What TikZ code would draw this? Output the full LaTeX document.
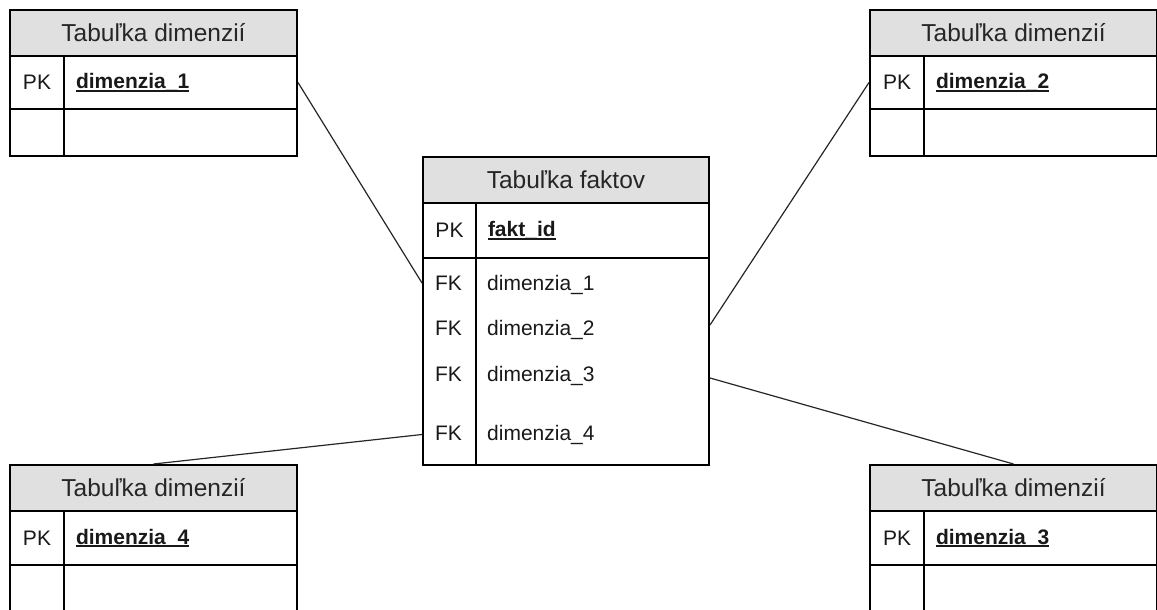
\documentclass[tikz,border=0pt]{standalone}
\usepackage{fontspec}
\setmainfont{Liberation Sans}
\newcommand\ulbf[1]{\setbox0\hbox{\textbf{#1}}\rlap{\rule[-3pt]{\wd0}{1.7pt}}\box0}
\tikzset{
  hdr/.style={draw, line width=2pt, fill=hdrgray, anchor=north west, minimum width=287pt, minimum height=46pt, inner sep=0pt, font=\fontsize{24.5}{28}\selectfont, text=black!85},
  keycell/.style={draw, line width=2pt, anchor=north west, minimum width=54pt, inner sep=0pt, font=\fontsize{21}{25}\selectfont, text=black!90},
  valcell/.style={draw, line width=2pt, anchor=north west, text width=209pt, inner xsep=12pt, inner ysep=0pt, align=left, font=\fontsize{21}{25}\selectfont, text=black!90},
  plain/.style={inner sep=0pt, text height=15pt, text depth=0pt, font=\fontsize{21}{25}\selectfont, text=black!90},
  link/.style={line width=1.2pt, draw=black!85}
}
\definecolor{hdrgray}{RGB}{224,224,224}
\begin{document}
\begin{tikzpicture}[x=1pt, y=-1pt]
\useasboundingbox (0,0) rectangle (1157,610);
\clip (0,0) rectangle (1157,610);
% ---------- top-left dimension table ----------
\node[hdr] (d1h) at (9,9) {Tabuľka dimenzií};
\node[keycell, minimum height=53pt] (d1k) at (9,55) {PK};
\node[valcell, minimum height=53pt] (d1v) at (63,55) {\ulbf{dimenzia\_1}};
\node[keycell, minimum height=47pt] (d1ek) at (9,108) {};
\node[valcell, minimum height=47pt] (d1ev) at (63,108) {};
% ---------- top-right dimension table ----------
\node[hdr] (d2h) at (869,9) {Tabuľka dimenzií};
\node[keycell, minimum height=53pt] (d2k) at (869,55) {PK};
\node[valcell, minimum height=53pt] (d2v) at (923,55) {\ulbf{dimenzia\_2}};
\node[keycell, minimum height=47pt] (d2ek) at (869,108) {};
\node[valcell, minimum height=47pt] (d2ev) at (923,108) {};
% ---------- bottom-left dimension table ----------
\node[hdr] (d4h) at (9,464) {Tabuľka dimenzií};
\node[keycell, minimum height=54pt] (d4k) at (9,510) {PK};
\node[valcell, minimum height=54pt] (d4v) at (63,510) {\ulbf{dimenzia\_4}};
\node[keycell, minimum height=52pt] (d4ek) at (9,564) {};
\node[valcell, minimum height=52pt] (d4ev) at (63,564) {};
% ---------- bottom-right dimension table ----------
\node[hdr] (d3h) at (869,464) {Tabuľka dimenzií};
\node[keycell, minimum height=54pt] (d3k) at (869,510) {PK};
\node[valcell, minimum height=54pt] (d3v) at (923,510) {\ulbf{dimenzia\_3}};
\node[keycell, minimum height=52pt] (d3ek) at (869,564) {};
\node[valcell, minimum height=52pt] (d3ev) at (923,564) {};
% ---------- fact table ----------
\node[hdr, minimum width=286pt] (fh) at (422,156) {Tabuľka faktov};
\node[keycell, minimum height=55pt, minimum width=53pt] (fk) at (422,202) {PK};
\node[valcell, minimum height=55pt] (fv) at (475,202) {\ulbf{fakt\_id}};
\node[keycell, minimum height=207pt, minimum width=53pt] (fkcol) at (422,257) {};
\node[draw, line width=2pt, anchor=north west, minimum width=233pt, minimum height=207pt, inner sep=0pt] (fvcol) at (475,257) {};
\node[plain] (k1) at (448.5,283) {FK};
\node[plain, anchor=west] (v1) at (487,283) {dimenzia\_1};
\node[plain] (k2) at (448.5,328) {FK};
\node[plain, anchor=west] (v2) at (487,328) {dimenzia\_2};
\node[plain] (k3) at (448.5,374) {FK};
\node[plain, anchor=west] (v3) at (487,374) {dimenzia\_3};
\node[plain] (k4) at (448.5,433) {FK};
\node[plain, anchor=west] (v4) at (487,433) {dimenzia\_4};
% ---------- connectors ----------
\draw[link] (d1v.east) -- (fkcol.west |- k1.center);
\draw[link] (d2k.west) -- ([yshift=3pt]fvcol.east |- v2.center);
\draw[link] ([yshift=-4pt]fvcol.east |- v3.center) -- (d3h.north);
\draw[link] ([yshift=-1.5pt]fkcol.west |- k4.center) -- (d4h.north);
\end{tikzpicture}
\end{document}
